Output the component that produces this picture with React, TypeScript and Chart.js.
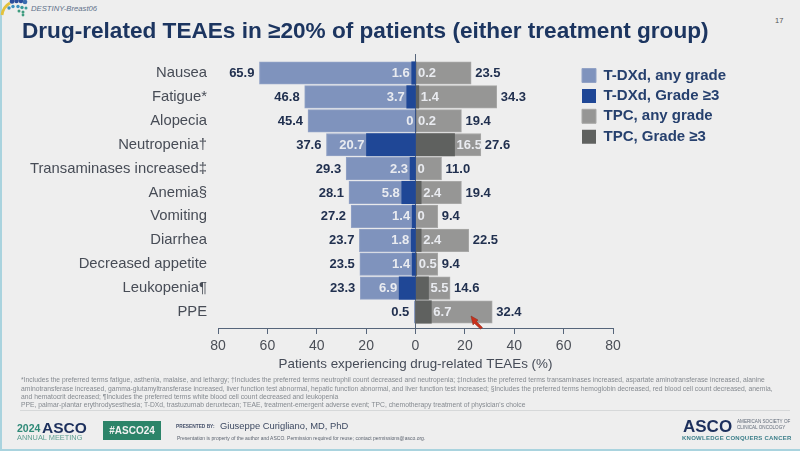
import React, { useEffect, useRef } from "react";
import { Chart, registerables } from "chart.js";

Chart.register(...registerables);

const categories = ["Nausea", "Fatigue*", "Alopecia", "Neutropenia†", "Transaminases increased‡", "Anemia§", "Vomiting", "Diarrhea", "Decreased appetite", "Leukopenia¶", "PPE"];
const tdxdAny = [65.9, 46.8, 45.4, 37.6, 29.3, 28.1, 27.2, 23.7, 23.5, 23.3, 0.5];
const tdxdG3 = [1.6, 3.7, 0, 20.7, 2.3, 5.8, 1.4, 1.8, 1.4, 6.9, null];
const tpcAny = [23.5, 34.3, 19.4, 27.6, 11.0, 19.4, 9.4, 22.5, 9.4, 14.6, 32.4];
const tpcG3 = [0.2, 1.4, 0.2, 16.5, 0, 2.4, 0, 2.4, 0.5, 5.5, 6.7];
const seriesNames = ["T-DXd, any grade", "T-DXd, Grade ≥3", "TPC, any grade", "TPC, Grade ≥3"];
const axisTitle = "Patients experiencing drug-related TEAEs (%)";
const chartTitle = "Drug-related TEAEs in ≥20% of patients (either treatment group)";
const footnotes = [
  "*Includes the preferred terms fatigue, asthenia, malaise, and lethargy; †Includes the preferred terms neutrophil count decreased and neutropenia; ‡Includes the preferred terms transaminases increased, aspartate aminotransferase increased, alanine",
  "aminotransferase increased, gamma-glutamyltransferase increased, liver function test abnormal, hepatic function abnormal, and liver function test increased; §Includes the preferred terms hemoglobin decreased, red blood cell count decreased, anemia,",
  "and hematocrit decreased; ¶Includes the preferred terms white blood cell count decreased and leukopenia",
  "PPE, palmar-plantar erythrodysesthesia; T-DXd, trastuzumab deruxtecan; TEAE, treatment-emergent adverse event; TPC, chemotherapy treatment of physician's choice",
];

const FONT = "'Liberation Sans', Arial, sans-serif";
const NAVY = "#1c3560";

const valueLabels = {
  id: "valueLabels",
  afterDatasetsDraw(chart: any) {
    const { ctx } = chart;
    const xs = chart.scales.xBars;
    const ys = chart.scales.y;
    ctx.save();
    ctx.textBaseline = "middle";
    ctx.font = `bold 13px ${FONT}`;
    categories.forEach((_, i) => {
      const y = ys.getPixelForValue(i) + 0.5;
      ctx.fillStyle = "#21304f";
      ctx.textAlign = "right";
      ctx.fillText(tdxdAny[i].toFixed(1), xs.getPixelForValue(-tdxdAny[i]) - 5, y);
      ctx.textAlign = "left";
      ctx.fillText(tpcAny[i].toFixed(1), xs.getPixelForValue(tpcAny[i]) + 4, y);
      ctx.fillStyle = "#e9ebf0";
      const a = tdxdG3[i];
      if (a !== null) {
        ctx.textAlign = "right";
        ctx.fillText(String(a), xs.getPixelForValue(-a) - 2, y);
      }
      ctx.textAlign = "left";
      ctx.fillText(String(tpcG3[i]), xs.getPixelForValue(tpcG3[i]) + 2, y);
    });
    ctx.restore();
  },
};

const placeBlocks = {
  id: "placeBlocks",
  beforeDraw(chart: any) {
    const l = chart.legend;
    const pad = l.options.labels.padding;
    l.left = 582 - pad;
    l.right = 782;
    l.top = 68 - pad;
    l.bottom = 160;
    chart.titleBlock.right = 790;
  },
};

const abs = { position: "absolute" as const, whiteSpace: "nowrap" as const, fontFamily: FONT, lineHeight: 1 };

export default function App() {
  const ref = useRef<HTMLCanvasElement>(null);
  useEffect(() => {
    document.body.style.margin = "0";
    document.body.style.overflow = "hidden";
    const toPoints = (vals: (number | null)[], sign: number) =>
      vals.map((v, i) => ({ x: v === null ? null : sign * v, y: i }));
    const chart = new Chart(ref.current!, {
      type: "bar",
      data: {
        datasets: [
          { label: seriesNames[0], data: toPoints(tdxdAny, -1), backgroundColor: "#7f93bd", borderColor: "#93a3c6", borderWidth: 1, order: 2 },
          { label: seriesNames[1], data: toPoints(tdxdG3, -1), backgroundColor: "#1f4796", borderColor: "#1f4796", borderWidth: 0, order: 1 },
          { label: seriesNames[2], data: toPoints(tpcAny, 1), backgroundColor: "#969695", borderColor: "#a8a8a7", borderWidth: 1, order: 2 },
          { label: seriesNames[3], data: toPoints(tpcG3, 1), backgroundColor: "#5f615f", borderColor: "#5f615f", borderWidth: 0, order: 1 },
        ].map((d) => ({ ...d, xAxisID: "xBars", yAxisID: "y", grouped: false, barThickness: 22.5 })) as any,
      },
      options: {
        indexAxis: "y",
        responsive: false,
        animation: false,
        layout: { padding: { left: 22, right: 187, top: 0, bottom: 79 } },
        scales: {
          x: {
            type: "linear",
            position: "bottom",
            min: -80,
            max: 80,
            afterFit: (s: any) => { s.height = 44; },
            border: { display: true, color: "#56657a", width: 1 },
            grid: {
              color: (c: any) => (c.tick && c.tick.value === 0 ? "#56657a" : "rgba(0,0,0,0)"),
              tickColor: "#56657a",
              tickLength: 6,
            },
            ticks: { stepSize: 20, padding: 4, maxRotation: 0, color: "#4b4f57", font: { family: FONT, size: 14 }, callback: (v: any) => String(Math.abs(v)) },
            title: { display: true, text: axisTitle, color: "#454b57", font: { family: FONT, size: 13.4 }, padding: { top: 0, bottom: 0 } },
          },
          xBars: { type: "linear", position: "bottom", display: false, bounds: "data", min: -83.4, max: 83.4 },
          y: {
            type: "linear",
            bounds: "data",
            offset: false,
            reverse: true,
            min: -0.795,
            max: 10.67,
            afterBuildTicks: (s: any) => { s.ticks = categories.map((_, i) => ({ value: i })); },
            afterFit: (s: any) => { s.width = 196; },
            border: { display: false },
            grid: { display: false, drawTicks: false, offset: false },
            ticks: {
              autoSkip: false,
              padding: 11,
              color: "#474c56",
              font: { family: FONT, size: 14.8 },
              callback: (v: any) => categories[v] ?? "",
            },
          },
        },
        plugins: {
          title: { display: true, text: chartTitle, align: "start", color: NAVY, font: { family: FONT, size: 22.6, weight: "bold" }, padding: { top: 18.5, bottom: 8.4 } },
          legend: {
            position: "chartArea",
            align: "start",
            labels: {
              boxWidth: 14,
              boxHeight: 14,
              padding: 5.4,
              color: "#26406e",
              font: { family: FONT, size: 15, weight: "bold" },
              sort: (a: any, b: any) => a.datasetIndex - b.datasetIndex,
            },
          },
          tooltip: { enabled: false },
        },
      } as any,
      plugins: [valueLabels, placeBlocks],
    });
    return () => chart.destroy();
  }, []);

  return (
    <div style={{ position: "relative", width: 800, height: 451, overflow: "hidden", background: "#eeeeee", filter: "blur(0.4px)" }}>
      <div style={{ position: "absolute", left: 0, top: 0, width: 1.5, height: 451, background: "#a9d3de" }} />
      <div style={{ position: "absolute", left: 0, top: 449, width: 800, height: 2, background: "#a9d3de" }} />
      <svg width="30" height="18" style={{ position: "absolute", left: 0, top: 0 }}>
        <path d="M2 15 Q3 7 10 3" stroke="#e3c23c" strokeWidth="2.8" fill="none" />
        <circle cx="12" cy="1.5" r="2.3" fill="#2b4c9b" /><circle cx="16.5" cy="1" r="2.3" fill="#2b4c9b" /><circle cx="21" cy="1" r="2.3" fill="#2b4c9b" /><circle cx="25" cy="2" r="2.3" fill="#3b6db0" />
        <circle cx="9" cy="8" r="1.7" fill="#3a8fc0" /><circle cx="13" cy="6.5" r="1.7" fill="#3a8fc0" /><circle cx="18" cy="6.5" r="1.7" fill="#3a8fc0" /><circle cx="22" cy="7.5" r="1.7" fill="#3a9a9a" /><circle cx="26" cy="8" r="1.5" fill="#3a9a9a" />
        <circle cx="19" cy="11" r="1.5" fill="#3f9c7f" /><circle cx="23" cy="12" r="1.5" fill="#3f9c7f" /><circle cx="23" cy="15" r="1.4" fill="#3f9c7f" />
      </svg>
      <div style={{ ...abs, left: 31, top: 5.2, fontSize: 7.7, fontStyle: "italic", color: "#60708a" }}>DESTINY-Breast06</div>
      <div style={{ ...abs, left: 775, top: 17, fontSize: 7.5, color: "#555" }}>17</div>
      <canvas ref={ref} width={800} height={451} style={{ position: "absolute", left: 0, top: 0, display: "block" }} />
      <svg width="20" height="20" style={{ position: "absolute", left: 468, top: 314 }}>
        <path d="M3 2 L10 6 L8.5 7.5 L14.5 13.5 L12.5 15 L6.5 9.5 L5 11 Z" fill="#c9301c" stroke="#8a2a1a" strokeWidth="0.5" />
      </svg>
      {footnotes.map((t, i) => (
        <div key={i} style={{ ...abs, left: 21, top: [376.5, 385.5, 393.5, 401.5][i], fontSize: 6.75, color: "#858a90" }}>{t}</div>
      ))}
      <div style={{ position: "absolute", left: 20, top: 410, width: 770, height: 1, background: "#d6d8d9" }} />
      <div style={{ ...abs, left: 17, top: 423, fontSize: 10.5, fontWeight: 700, color: "#2f8a78" }}>2024</div>
      <div style={{ ...abs, left: 42, top: 420, fontSize: 15.5, fontWeight: 700, color: "#1c2f5c" }}>ASCO</div>
      <div style={{ ...abs, left: 17, top: 434, fontSize: 7.4, color: "#5f9f92" }}>ANNUAL MEETING</div>
      <div style={{ ...abs, left: 103, top: 421, width: 58, height: 19, background: "#2c8469", color: "#f2f2f2", fontSize: 10, fontWeight: 700, textAlign: "center", lineHeight: "19px" }}>#ASCO24</div>
      <div style={{ ...abs, left: 176, top: 424.5, fontSize: 4.8, fontWeight: 700, color: "#45506a" }}>PRESENTED BY:</div>
      <div style={{ ...abs, left: 220, top: 421, fontSize: 9.4, color: "#3e4a62" }}>Giuseppe Curigliano, MD, PhD</div>
      <div style={{ ...abs, left: 177, top: 435.5, fontSize: 5, color: "#5d6470" }}>Presentation is property of the author and ASCO. Permission required for reuse; contact permissions@asco.org.</div>
      <div style={{ ...abs, left: 683, top: 418, fontSize: 17, fontWeight: 700, color: "#1c2f5c" }}>ASCO</div>
      <div style={{ ...abs, left: 737, top: 420, fontSize: 4.6, color: "#606a78" }}>AMERICAN SOCIETY OF</div>
      <div style={{ ...abs, left: 737, top: 426, fontSize: 4.6, color: "#606a78" }}>CLINICAL ONCOLOGY</div>
      <div style={{ ...abs, left: 682, top: 435, fontSize: 6, fontWeight: 700, letterSpacing: 0.25, color: "#3c7f8a" }}>KNOWLEDGE CONQUERS CANCER</div>
    </div>
  );
}
